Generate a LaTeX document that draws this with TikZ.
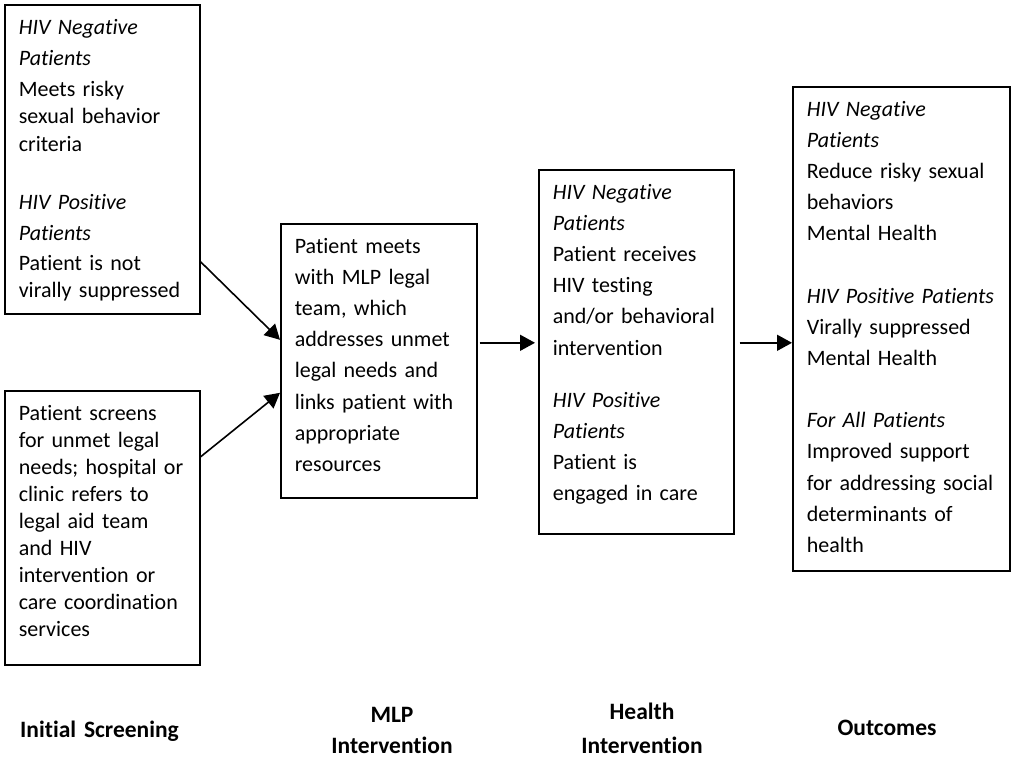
\documentclass[tikz,border=0pt]{standalone}
\usepackage{fontspec}
\setmainfont{Carlito}[Ligatures={NoCommon,NoRare}, Contextuals=NoAlternate]
\usepackage{tikz}
\usetikzlibrary{arrows.meta,calc,positioning}
\tikzset{%
	block/.style   = {draw, rectangle, anchor=north west, line width=1.6pt, inner xsep=14pt, inner ysep=0pt, text height=29.3pt}, % Box
	screen/.style  = {block, font=\fontsize{22pt}{27.1pt}\selectfont}, % Screening box
	plan/.style    = {block, font=\fontsize{22pt}{31.2pt}\selectfont}, % Other boxes
	stage/.style   = {text width=220pt, align=center, anchor=base, inner sep=0pt, font=\bfseries\fontsize{23.5pt}{31pt}\selectfont}, % Column title
	link/.style    = {line width=1.6pt, ->, >={Triangle[length=15pt,width=16pt]}},
}
\begin{document}
\begin{tikzpicture}[x=1pt, y=-1pt]
	\useasboundingbox (0,0) rectangle (1014,763);
	\node[screen, text width=167pt, text depth=279.7pt] (neg) at (4,4) {\textit{HIV Negative}\\[4.5pt] \textit{Patients}\\[4pt] Meets risky\\ sexual behavior\\ criteria\\[31pt] \textit{HIV Positive}\\[4.5pt] \textit{Patients}\\[3pt] Patient is not\\ virally suppressed};
	\node[screen, text width=167pt, text depth=244.7pt] (scr) at (4,390) {Patient screens\\ for unmet legal\\ needs; hospital or\\ clinic refers to\\ legal aid team\\ and HIV\\ intervention or\\ care coordination\\ services};
	\node[plan, text width=168pt, text depth=244.7pt] (mlp) at (280,223) {Patient meets\\ with MLP legal\\ team, which\\ addresses unmet\\ legal needs and\\ links patient with\\ appropriate\\ resources};
	\node[plan, text width=167pt, text depth=334.7pt] (health) at (538,169) {\textit{HIV Negative}\\ \textit{Patients}\\ Patient receives\\ HIV testing\\ and/or behavioral\\ intervention\\[21pt] \textit{HIV Positive}\\ \textit{Patients}\\ Patient is\\ engaged in care};
	\node[plan, text width=189pt, text depth=454.7pt] (out) at (792,86) {\textit{HIV Negative}\\ \textit{Patients}\\ Reduce risky sexual\\ behaviors\\ Mental Health\\[31pt] \textit{HIV Positive Patients}\\ Virally suppressed\\ Mental Health\\[31pt] \textit{For All Patients}\\ Improved support\\ for addressing social\\ determinants of\\ health};
	\node[stage] (tscr) at (99.5,737) {Initial Screening};
	\node[stage] (tmlp) at (392,722) {MLP\\ Intervention};
	\node[stage] (thealth) at (642,719) {Health\\[3pt] Intervention};
	\node[stage] (tout) at (887,735) {Outcomes};
	\draw[link] ([yshift=-102.5pt]neg.east) -- ([yshift=21pt]mlp.west);
	\draw[link] ([yshift=71pt]scr.east) -- ([yshift=-32pt]mlp.west);
	\draw[link, shorten <=2pt, shorten >=3pt] ([yshift=18pt]mlp.east) -- ([yshift=9pt]health.west);
	\draw[link, shorten <=5pt] ([yshift=9pt]health.east) -- ([yshift=-14pt]out.west);
\end{tikzpicture}
\end{document}
